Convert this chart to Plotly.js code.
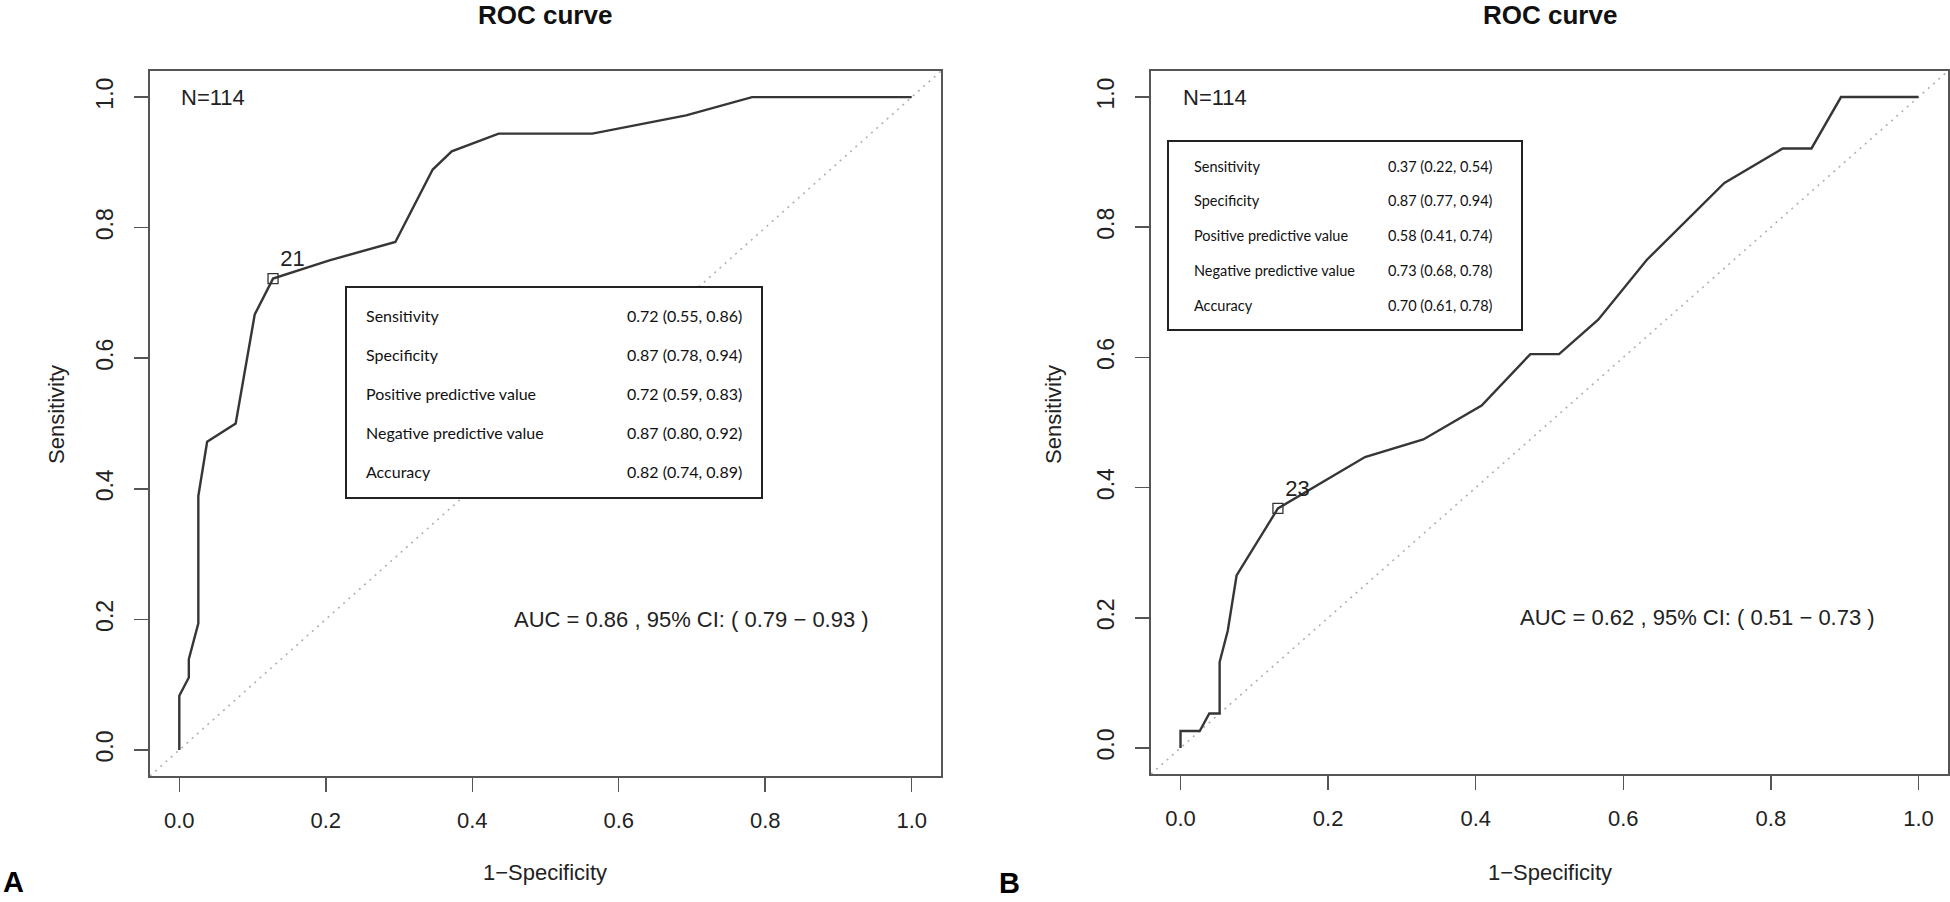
<!DOCTYPE html>
<html>
<head>
<meta charset="utf-8">
<script src="https://cdn.plot.ly/plotly-3.0.1.min.js"></script>
<style>
  html, body { margin: 0; padding: 0; background: #ffffff; }
  #roc_div { width: 1950px; height: 902px; }
</style>
</head>
<body>
<div id="roc_div"></div>
<script>
// panel A
var fpr_a = [0, 0, 0.013, 0.013, 0.026, 0.026, 0.038, 0.077, 0.103, 0.128, 0.205, 0.295, 0.346, 0.372, 0.436, 0.564, 0.692, 0.782, 1.0];
var tpr_a = [0, 0.083, 0.111, 0.139, 0.194, 0.389, 0.472, 0.5, 0.667, 0.722, 0.75, 0.778, 0.889, 0.917, 0.944, 0.944, 0.972, 1.0, 1.0];
var cut_a = {x: [0.128], y: [0.722], label: ['21']};
var auc_a = 'AUC = 0.86 , 95% CI: ( 0.79 \u2212 0.93 )';
var table_values_a = ['0.72 (0.55, 0.86)', '0.87 (0.78, 0.94)', '0.72 (0.59, 0.83)', '0.87 (0.80, 0.92)', '0.82 (0.74, 0.89)'];

// panel B
var fpr_b = [0, 0, 0.026, 0.039, 0.053, 0.053, 0.064, 0.076, 0.132, 0.25, 0.329, 0.408, 0.474, 0.513, 0.566, 0.632, 0.737, 0.816, 0.855, 0.895, 1.0];
var tpr_b = [0, 0.026, 0.026, 0.053, 0.053, 0.132, 0.18, 0.265, 0.368, 0.447, 0.474, 0.526, 0.605, 0.605, 0.658, 0.75, 0.868, 0.921, 0.921, 1.0, 1.0];
var cut_b = {x: [0.132], y: [0.368], label: ['23']};
var auc_b = 'AUC = 0.62 , 95% CI: ( 0.51 \u2212 0.73 )';
var table_values_b = ['0.37 (0.22, 0.54)', '0.87 (0.77, 0.94)', '0.58 (0.41, 0.74)', '0.73 (0.68, 0.78)', '0.70 (0.61, 0.78)'];

var table_labels = ['Sensitivity', 'Specificity', 'Positive predictive value', 'Negative predictive value', 'Accuracy'];
var sample_text = 'N=114';
var tick_vals = [0, 0.2, 0.4, 0.6, 0.8, 1.0];
var tick_text = ['0.0', '0.2', '0.4', '0.6', '0.8', '1.0'];

var W = 1950, H = 902;
var FONT = 'Liberation Sans, Arial, Helvetica, sans-serif';
var TABLE_FONT = 'Lato, Noto Sans, sans-serif';
var FRAME = '#555555';
var CURVE = '#363636';

function px(x) { return x / W; }
function py(y) { return 1 - y / H; }


function create_curve(fpr, tpr, xa, ya)
{
    return {
        x: fpr,
        y: tpr,
        xaxis: xa,
        yaxis: ya,
        mode: 'lines',
        line: {color: CURVE, width: 2.4},
        hoverinfo: 'skip'
    };
}


function create_cutoff(cut, xa, ya)
{
    return {
        x: cut.x,
        y: cut.y,
        xaxis: xa,
        yaxis: ya,
        mode: 'markers+text',
        text: cut.label,
        textposition: 'top right',
        textfont: {family: FONT, size: 22, color: '#222222'},
        marker: {symbol: 'square-open', size: 10, color: '#333333', line: {width: 1.3}},
        hoverinfo: 'skip'
    };
}


function create_xaxis(domain, anchor)
{
    return {
        domain: domain,
        anchor: anchor,
        range: [-0.04, 1.04],
        tickvals: tick_vals,
        ticktext: tick_text,
        ticks: 'outside',
        ticklen: 14,
        tickwidth: 1.5,
        tickcolor: FRAME,
        ticklabelstandoff: 10,
        tickfont: {family: FONT, size: 22, color: '#222222'},
        showline: true,
        mirror: true,
        linecolor: FRAME,
        linewidth: 2,
        showgrid: false,
        zeroline: false
    };
}


function create_yaxis(domain, anchor)
{
    var axis = create_xaxis(domain, anchor);
    axis.tickangle = -90;
    axis.ticklabelstandoff = 12;
    axis.tickfont = {family: FONT, size: 23, color: '#222222'};
    return axis;
}


function panel_annotations(xref, yref, left, auc, values, table)
{
    var notes = [];
    notes.push({xref: 'paper', yref: 'paper', x: px(left.title_x), y: py(15), text: '<b>ROC curve</b>',
        showarrow: false, xanchor: 'center', yanchor: 'middle', font: {family: FONT, size: 26, color: '#111111'}});
    notes.push({xref: 'paper', yref: 'paper', x: px(left.title_x), y: py(872), text: '1\u2212Specificity',
        showarrow: false, xanchor: 'center', yanchor: 'middle', font: {family: FONT, size: 22, color: '#222222'}});
    notes.push({xref: 'paper', yref: 'paper', x: px(left.ylab_x), y: py(415), text: 'Sensitivity', textangle: -90,
        showarrow: false, xanchor: 'center', yanchor: 'middle', font: {family: FONT, size: 22, color: '#222222'}});
    notes.push({xref: 'paper', yref: 'paper', x: px(left.letter_x), y: py(left.letter_y), text: '<b>' + left.letter + '</b>',
        showarrow: false, xanchor: 'left', yanchor: 'bottom', borderpad: 0, font: {family: FONT, size: 29, color: '#000000'}});
    notes.push({xref: xref, yref: yref, x: 0, y: 1.0, text: sample_text,
        showarrow: false, xanchor: 'left', yanchor: 'middle', font: {family: FONT, size: 22, color: '#222222'}});
    notes.push({xref: xref, yref: yref, x: 0.70, y: 0.2, text: auc,
        showarrow: false, xanchor: 'center', yanchor: 'middle', font: {family: FONT, size: 22, color: '#222222'}});

    for (var i = 0; i < table_labels.length; i++)
    {
        var row_y = table.row0 + i * table.step;
        notes.push({xref: 'paper', yref: 'paper', x: px(table.label_x), y: py(row_y), text: table_labels[i],
            showarrow: false, xanchor: 'left', yanchor: 'middle', font: {family: TABLE_FONT, size: table.size, color: '#111111'}});
        notes.push({xref: 'paper', yref: 'paper', x: px(table.value_x), y: py(row_y), text: values[i],
            showarrow: false, xanchor: 'left', yanchor: 'middle', font: {family: TABLE_FONT, size: table.size, color: '#111111'}});
    }
    return notes;
}


function table_box(table)
{
    return {
        type: 'rect', xref: 'paper', yref: 'paper', layer: 'above',
        x0: px(table.x0), x1: px(table.x1), y0: py(table.y1), y1: py(table.y0),
        fillcolor: '#ffffff',
        line: {color: '#222222', width: 2}
    };
}


function diagonal(xref, yref)
{
    return {
        type: 'line', xref: xref + ' domain', yref: yref + ' domain', layer: 'below',
        x0: 0, y0: 0, x1: 1, y1: 1,
        line: {color: '#b0b0b0', width: 1.6, dash: '2px,5px'}
    };
}


var table_a = {x0: 346, x1: 762, y0: 287, y1: 498, label_x: 364, value_x: 625, row0: 315, step: 39.2, size: 16};
var table_b = {x0: 1168, x1: 1522, y0: 141, y1: 330, label_x: 1192, value_x: 1386, row0: 166, step: 34.9, size: 14.5};

var traces = [
    create_curve(fpr_a, tpr_a, 'x', 'y'),
    create_cutoff(cut_a, 'x', 'y'),
    create_curve(fpr_b, tpr_b, 'x2', 'y2'),
    create_cutoff(cut_b, 'x2', 'y2')
];

var annotations = panel_annotations('x', 'y', {title_x: 545, ylab_x: 56, letter_x: 2, letter_y: 899, letter: 'A'}, auc_a, table_values_a, table_a)
    .concat(panel_annotations('x2', 'y2', {title_x: 1550, ylab_x: 1053, letter_x: 998, letter_y: 900, letter: 'B'}, auc_b, table_values_b, table_b));

var layout = {
    width: W,
    height: H,
    margin: {l: 0, r: 0, t: 0, b: 0},
    paper_bgcolor: '#ffffff',
    plot_bgcolor: '#ffffff',
    showlegend: false,
    xaxis: create_xaxis([px(150), px(941)], 'y'),
    yaxis: create_yaxis([py(776), py(71)], 'x'),
    xaxis2: create_xaxis([px(1151), px(1948)], 'y2'),
    yaxis2: create_yaxis([py(774), py(71)], 'x2'),
    shapes: [diagonal('x', 'y'), diagonal('x2', 'y2'), table_box(table_a), table_box(table_b)],
    annotations: annotations
};

Plotly.newPlot('roc_div', traces, layout, {staticPlot: true});
</script>
</body>
</html>
